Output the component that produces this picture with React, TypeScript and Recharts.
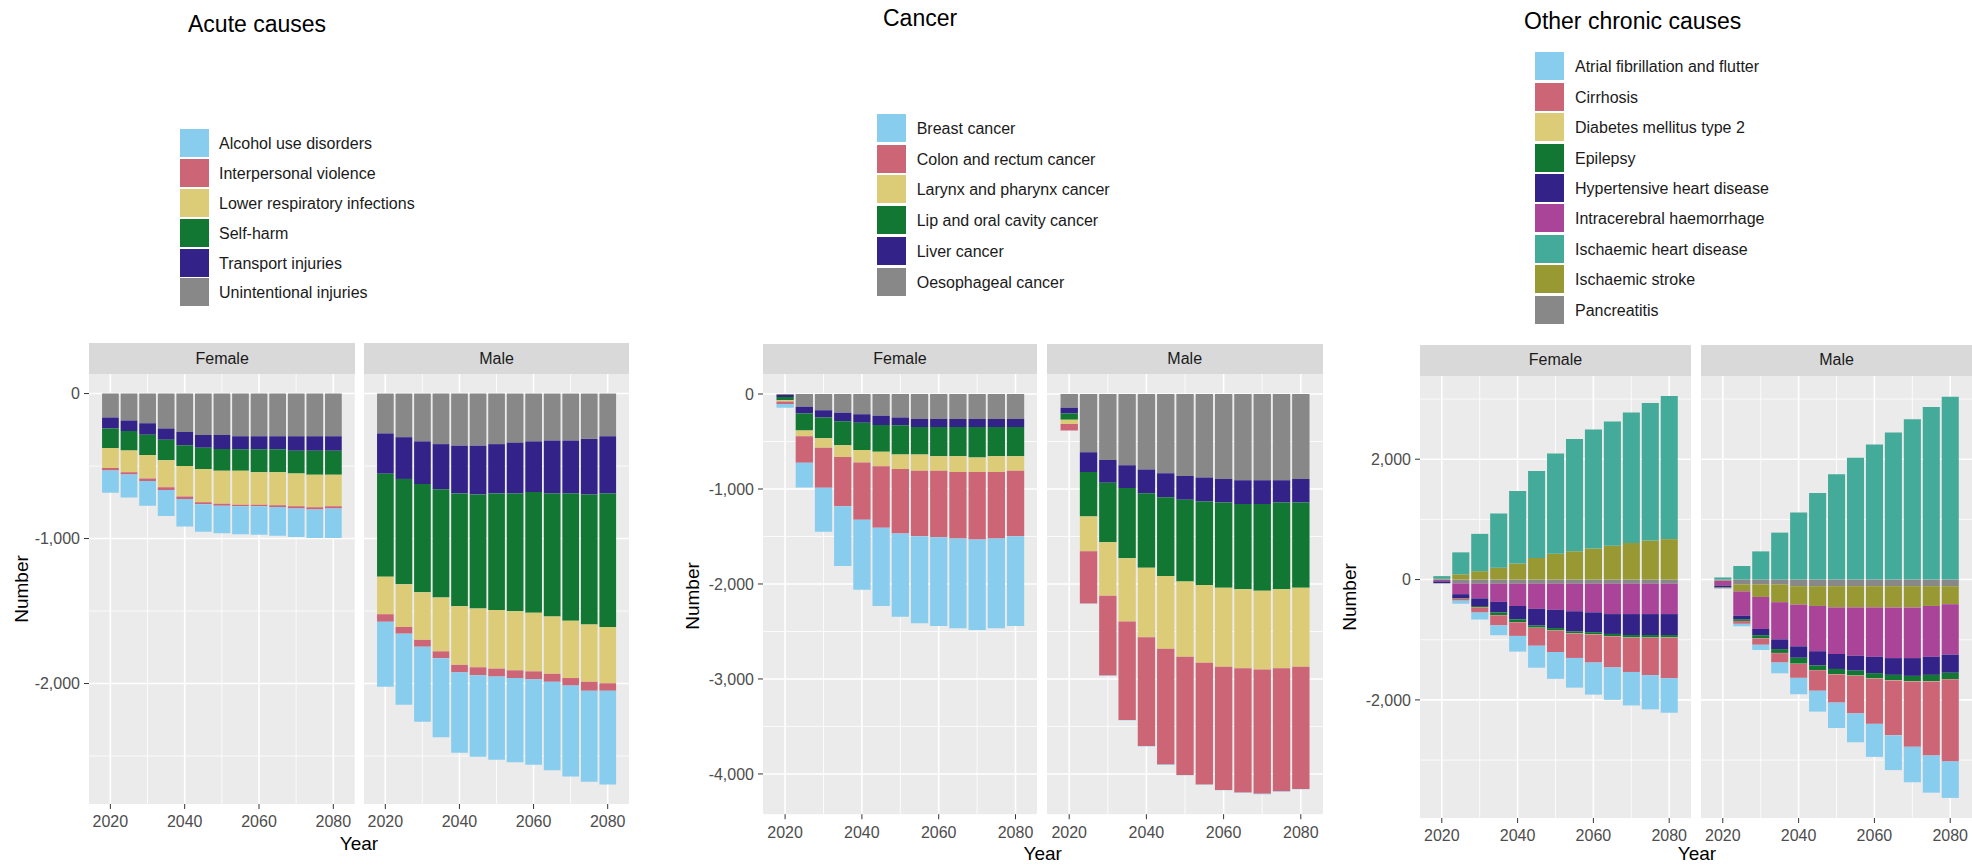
import React from 'react';
import { BarChart, Bar, XAxis, YAxis, CartesianGrid } from 'recharts';

const FONT = "'Liberation Sans', Arial, Helvetica, sans-serif";

const years = [2020, 2025, 2030, 2035, 2040, 2045, 2050, 2055, 2060, 2065, 2070, 2075, 2080];
const xMajor = [2020, 2040, 2060, 2080];
const xMinor = [2030, 2050, 2070];

// ---------- Acute causes ----------
const acuteF_unintentional = [-166, -185, -204, -241, -265, -286, -286, -295, -295, -295, -295, -295, -295];
const acuteF_transport = [-75, -73, -80, -78, -91, -87, -96, -90, -90, -90, -99, -99, -99];
const acuteF_selfharm = [-134, -134, -140, -141, -143, -147, -150, -147, -157, -157, -157, -166, -166];
const acuteF_lri = [-138, -150, -162, -187, -211, -230, -228, -235, -225, -229, -227, -225, -218];
const acuteF_violence = [-17, -16, -17, -19, -17, -14, -14, -11, -11, -12, -15, -15, -15];
const acuteF_alcohol = [-155, -159, -171, -178, -190, -190, -190, -193, -195, -197, -196, -196, -203];

const acuteM_unintentional = [-275, -301, -330, -349, -359, -359, -349, -340, -330, -323, -323, -313, -294];
const acuteM_transport = [-278, -288, -294, -311, -330, -337, -340, -349, -349, -366, -366, -383, -395];
const acuteM_selfharm = [-710, -727, -747, -747, -778, -787, -804, -813, -833, -849, -878, -897, -921];
const acuteM_lri = [-259, -294, -328, -371, -404, -405, -404, -407, -404, -395, -395, -395, -388];
const acuteM_violence = [-52, -46, -47, -47, -52, -55, -55, -53, -55, -55, -52, -62, -52];
const acuteM_alcohol = [-448, -490, -517, -546, -555, -562, -574, -581, -589, -610, -627, -627, -646];

// ---------- Cancer ----------
const cancerF_oesophageal = [-10, -133, -172, -197, -212, -230, -248, -262, -262, -262, -262, -262, -262];
const cancerF_liver = [-22, -72, -76, -90, -90, -97, -82, -86, -86, -86, -86, -86, -86];
const cancerF_lip = [-35, -179, -219, -252, -287, -280, -306, -288, -306, -306, -320, -306, -306];
const cancerF_larynx = [-13, -61, -100, -125, -133, -154, -154, -172, -154, -168, -154, -168, -154];
const cancerF_colon = [-25, -280, -420, -517, -603, -647, -679, -689, -700, -700, -711, -700, -689];
const cancerF_breast = [-40, -259, -464, -629, -736, -825, -876, -916, -934, -945, -952, -945, -945];

const cancerM_oesophageal = [-145, -612, -696, -751, -795, -835, -864, -879, -894, -908, -908, -908, -894];
const cancerM_liver = [-60, -209, -238, -238, -249, -253, -250, -253, -249, -250, -250, -235, -249];
const cancerM_lip = [-65, -468, -626, -740, -784, -828, -860, -879, -897, -897, -912, -912, -897];
const cancerM_larynx = [-45, -367, -565, -667, -732, -765, -792, -817, -832, -831, -831, -831, -832];
const cancerM_colon = [-70, -549, -838, -1036, -1147, -1220, -1245, -1282, -1296, -1308, -1308, -1297, -1286];
const cancerM_breast = [0, -2, -3, -3, -4, -4, -4, -4, -4, -4, -4, -4, -4];

// ---------- Other chronic causes ----------
const otherF_pancreatitis = [-5, -64, -70, -70, -70, -70, -70, -70, -70, -70, -70, -70, -70];
const otherF_stroke = [12, 87, 139, 197, 267, 359, 429, 470, 516, 562, 609, 649, 672];
const otherF_ihd = [45, 365, 620, 899, 1206, 1443, 1664, 1867, 1977, 2064, 2168, 2284, 2377];
const otherF_ich = [-25, -179, -243, -301, -370, -417, -434, -457, -475, -504, -504, -504, -504];
const otherF_hypertensive = [-28, -70, -127, -174, -221, -278, -302, -336, -330, -330, -348, -348, -348];
const otherF_epilepsy = [-3, -6, -18, -46, -46, -35, -40, -29, -35, -35, -41, -42, -40];
const otherF_diabetes = [-1, -2, -3, -3, -4, -4, -4, -5, -5, -5, -5, -5, -5];
const otherF_cirrhosis = [-3, -29, -87, -168, -226, -296, -354, -406, -464, -516, -568, -620, -672];
const otherF_atrial = [-3, -52, -116, -163, -261, -365, -446, -493, -533, -539, -556, -568, -574];

const otherM_pancreatitis = [-10, -81, -81, -81, -110, -110, -110, -110, -110, -110, -110, -110, -110];
const otherM_stroke = [-10, -116, -208, -295, -306, -329, -353, -353, -353, -353, -353, -329, -300];
const otherM_ihd = [35, 225, 468, 780, 1116, 1439, 1751, 2023, 2243, 2445, 2665, 2867, 3040];
const otherM_ich = [-80, -404, -532, -618, -694, -752, -774, -803, -820, -843, -843, -844, -838];
const otherM_hypertensive = [-25, -58, -104, -162, -190, -237, -249, -248, -272, -278, -295, -301, -301];
const otherM_epilepsy = [-10, -29, -52, -64, -99, -75, -86, -81, -87, -87, -87, -104, -104];
const otherM_diabetes = [-1, -2, -3, -3, -4, -4, -5, -5, -5, -5, -5, -5, -5];
const otherM_cirrhosis = [-10, -46, -104, -156, -231, -341, -468, -625, -751, -913, -1087, -1231, -1364];
const otherM_atrial = [-5, -41, -87, -179, -272, -347, -422, -479, -549, -578, -589, -618, -607];

type Series = { key: string; name: string; color: string };

const acuteSeries: Series[] = [
  { key: 'alcohol', name: 'Alcohol use disorders', color: '#88CCEE' },
  { key: 'violence', name: 'Interpersonal violence', color: '#CC6677' },
  { key: 'lri', name: 'Lower respiratory infections', color: '#DDCC77' },
  { key: 'selfharm', name: 'Self-harm', color: '#117733' },
  { key: 'transport', name: 'Transport injuries', color: '#332288' },
  { key: 'unintentional', name: 'Unintentional injuries', color: '#888888' },
];

const cancerSeries: Series[] = [
  { key: 'breast', name: 'Breast cancer', color: '#88CCEE' },
  { key: 'colon', name: 'Colon and rectum cancer', color: '#CC6677' },
  { key: 'larynx', name: 'Larynx and pharynx cancer', color: '#DDCC77' },
  { key: 'lip', name: 'Lip and oral cavity cancer', color: '#117733' },
  { key: 'liver', name: 'Liver cancer', color: '#332288' },
  { key: 'oesophageal', name: 'Oesophageal cancer', color: '#888888' },
];

const otherSeries: Series[] = [
  { key: 'atrial', name: 'Atrial fibrillation and flutter', color: '#88CCEE' },
  { key: 'cirrhosis', name: 'Cirrhosis', color: '#CC6677' },
  { key: 'diabetes', name: 'Diabetes mellitus type 2', color: '#DDCC77' },
  { key: 'epilepsy', name: 'Epilepsy', color: '#117733' },
  { key: 'hypertensive', name: 'Hypertensive heart disease', color: '#332288' },
  { key: 'ich', name: 'Intracerebral haemorrhage', color: '#AA4499' },
  { key: 'ihd', name: 'Ischaemic heart disease', color: '#44AA99' },
  { key: 'stroke', name: 'Ischaemic stroke', color: '#999933' },
  { key: 'pancreatitis', name: 'Pancreatitis', color: '#888888' },
];

function buildRows(cols: Record<string, number[]>) {
  return years.map((year, i) => {
    const row: Record<string, number> = { year };
    Object.keys(cols).forEach((k) => {
      row[k] = cols[k][i];
    });
    return row;
  });
}

const acuteFemale = buildRows({
  alcohol: acuteF_alcohol, violence: acuteF_violence, lri: acuteF_lri,
  selfharm: acuteF_selfharm, transport: acuteF_transport, unintentional: acuteF_unintentional,
});
const acuteMale = buildRows({
  alcohol: acuteM_alcohol, violence: acuteM_violence, lri: acuteM_lri,
  selfharm: acuteM_selfharm, transport: acuteM_transport, unintentional: acuteM_unintentional,
});
const cancerFemale = buildRows({
  breast: cancerF_breast, colon: cancerF_colon, larynx: cancerF_larynx,
  lip: cancerF_lip, liver: cancerF_liver, oesophageal: cancerF_oesophageal,
});
const cancerMale = buildRows({
  breast: cancerM_breast, colon: cancerM_colon, larynx: cancerM_larynx,
  lip: cancerM_lip, liver: cancerM_liver, oesophageal: cancerM_oesophageal,
});
const otherFemale = buildRows({
  atrial: otherF_atrial, cirrhosis: otherF_cirrhosis, diabetes: otherF_diabetes, epilepsy: otherF_epilepsy,
  hypertensive: otherF_hypertensive, ich: otherF_ich, ihd: otherF_ihd, stroke: otherF_stroke, pancreatitis: otherF_pancreatitis,
});
const otherMale = buildRows({
  atrial: otherM_atrial, cirrhosis: otherM_cirrhosis, diabetes: otherM_diabetes, epilepsy: otherM_epilepsy,
  hypertensive: otherM_hypertensive, ich: otherM_ich, ihd: otherM_ihd, stroke: otherM_stroke, pancreatitis: otherM_pancreatitis,
});

function stackedDomain(rowsList: Record<string, number>[][], series: Series[]): [number, number] {
  let lo = 0;
  let hi = 0;
  rowsList.forEach((rows) =>
    rows.forEach((r) => {
      let p = 0;
      let n = 0;
      series.forEach((s) => {
        const v = r[s.key];
        if (v > 0) p += v;
        else n += v;
      });
      hi = Math.max(hi, p);
      lo = Math.min(lo, n);
    })
  );
  const pad = (hi - lo) * 0.05;
  return [lo - pad, hi + pad];
}

const fmt = (v: number) => v.toLocaleString('en-US');
const X_DOMAIN: [number, number] = [2014.25, 2085.75];
const Y_AXIS_W = 70;
const X_AXIS_H = 40;

type PanelProps = {
  left: number;
  w: number;
  stripTop: number;
  plotTop: number;
  plotH: number;
  label: string;
  rows: Record<string, number>[];
  series: Series[];
  domain: [number, number];
  majorY: number[];
  minorY: number[];
  showY: boolean;
};

function Panel(p: PanelProps) {
  const barSize = (4.5 * p.w) / (X_DOMAIN[1] - X_DOMAIN[0]);
  const yW = p.showY ? Y_AXIS_W : 0;
  const stackOrder = [...p.series].reverse();
  return (
    <>
      <div
        style={{
          position: 'absolute',
          left: p.left,
          top: p.stripTop,
          width: p.w,
          height: p.plotTop - p.stripTop,
          background: '#D9D9D9',
          color: '#1A1A1A',
          fontFamily: FONT,
          fontSize: 16,
          display: 'flex',
          alignItems: 'center',
          justifyContent: 'center',
        }}
      >
        {p.label}
      </div>
      <div style={{ position: 'absolute', left: p.left - yW, top: p.plotTop }}>
        <BarChart
          width={p.w + yW}
          height={p.plotH + X_AXIS_H}
          data={p.rows}
          stackOffset="sign"
          margin={{ top: 0, right: 0, bottom: 0, left: 0 }}
        >
          <CartesianGrid
            fill="#EBEBEB"
            stroke="#FFFFFF"
            strokeWidth={0.8}
            horizontalValues={p.minorY}
            verticalValues={xMinor}
          />
          <CartesianGrid
            stroke="#FFFFFF"
            strokeWidth={1.6}
            horizontalValues={p.majorY}
            verticalValues={xMajor}
          />
          <XAxis
            type="number"
            dataKey="year"
            domain={X_DOMAIN}
            ticks={xMajor}
            allowDataOverflow
            interval={0}
            height={X_AXIS_H}
            axisLine={false}
            tickLine={{ stroke: '#333333' }}
            tickSize={5}
            tickMargin={7}
            tick={{ fill: '#4D4D4D', fontSize: 16, fontFamily: FONT }}
          />
          <YAxis
            type="number"
            domain={p.domain}
            ticks={p.majorY}
            allowDataOverflow
            interval={0}
            width={yW}
            hide={!p.showY}
            axisLine={false}
            tickLine={{ stroke: '#333333' }}
            tickSize={5}
            tickMargin={4}
            tickFormatter={fmt}
            tick={{ fill: '#4D4D4D', fontSize: 16, fontFamily: FONT }}
          />
          {stackOrder.map((s) => (
            <Bar
              key={s.key}
              dataKey={s.key}
              name={s.name}
              stackId="stack"
              fill={s.color}
              barSize={barSize}
              isAnimationActive={false}
            />
          ))}
        </BarChart>
      </div>
    </>
  );
}

type GroupProps = {
  title: string;
  titleX: number;
  titleY: number;
  series: Series[];
  legendX: number;
  legendY: number;
  legendStep: number;
  labelX: number;
  stripTop: number;
  plotTop: number;
  plotH: number;
  panels: { left: number; w: number; label: string; rows: Record<string, number>[] }[];
  majorY: number[];
  minorY: number[];
  numberX: number;
  numberY: number;
  yearX: number;
  yearY: number;
};

function Group(g: GroupProps) {
  const domain = stackedDomain(g.panels.map((p) => p.rows), g.series);
  return (
    <>
      <div
        style={{
          position: 'absolute',
          left: g.titleX,
          top: g.titleY - 11.5,
          fontFamily: FONT,
          fontSize: 23,
          lineHeight: '23px',
          color: '#000',
          whiteSpace: 'nowrap',
        }}
      >
        {g.title}
      </div>
      {g.series.map((s, i) => (
        <React.Fragment key={s.key}>
          <div
            style={{
              position: 'absolute',
              left: g.legendX,
              top: g.legendY + i * g.legendStep,
              width: 29,
              height: 28,
              background: s.color,
            }}
          />
          <div
            style={{
              position: 'absolute',
              left: g.labelX,
              top: g.legendY + i * g.legendStep + 14 - 8 + 1,
              fontFamily: FONT,
              fontSize: 16,
              lineHeight: '16px',
              color: '#1A1A1A',
              whiteSpace: 'nowrap',
            }}
          >
            {s.name}
          </div>
        </React.Fragment>
      ))}
      {g.panels.map((p, i) => (
        <Panel
          key={p.label}
          left={p.left}
          w={p.w}
          stripTop={g.stripTop}
          plotTop={g.plotTop}
          plotH={g.plotH}
          label={p.label}
          rows={p.rows}
          series={g.series}
          domain={domain}
          majorY={g.majorY}
          minorY={g.minorY}
          showY={i === 0}
        />
      ))}
      <div
        style={{
          position: 'absolute',
          left: g.numberX - 100,
          top: g.numberY - 10,
          width: 200,
          height: 20,
          lineHeight: '20px',
          textAlign: 'center',
          transform: 'rotate(-90deg)',
          fontFamily: FONT,
          fontSize: 19,
          color: '#000',
        }}
      >
        Number
      </div>
      <div
        style={{
          position: 'absolute',
          left: g.yearX - 100,
          top: g.yearY - 10,
          width: 200,
          height: 20,
          lineHeight: '20px',
          textAlign: 'center',
          fontFamily: FONT,
          fontSize: 19,
          color: '#000',
        }}
      >
        Year
      </div>
    </>
  );
}

export default function App() {
  return (
    <div
      style={{
        position: 'absolute',
        left: 0,
        top: 0,
        width: 1972,
        height: 865,
        overflow: 'hidden',
        background: '#FFFFFF',
      }}
    >
      <Group
        title="Acute causes"
        titleX={188}
        titleY={24}
        series={acuteSeries}
        legendX={180}
        legendY={129.3}
        legendStep={29.8}
        labelX={219}
        stripTop={343}
        plotTop={374}
        plotH={430}
        panels={[
          { left: 89.3, w: 265.7, label: 'Female', rows: acuteFemale },
          { left: 364, w: 265, label: 'Male', rows: acuteMale },
        ]}
        majorY={[0, -1000, -2000]}
        minorY={[-500, -1500, -2500]}
        numberX={21.7}
        numberY={588.5}
        yearX={359}
        yearY={843.6}
      />
      <Group
        title="Cancer"
        titleX={883}
        titleY={18.3}
        series={cancerSeries}
        legendX={876.7}
        legendY={114}
        legendStep={30.7}
        labelX={916.7}
        stripTop={343.7}
        plotTop={374.4}
        plotH={440.2}
        panels={[
          { left: 762.7, w: 274.6, label: 'Female', rows: cancerFemale },
          { left: 1046.7, w: 276, label: 'Male', rows: cancerMale },
        ]}
        majorY={[0, -1000, -2000, -3000, -4000]}
        minorY={[-500, -1500, -2500, -3500]}
        numberX={693}
        numberY={596}
        yearX={1042.7}
        yearY={853.5}
      />
      <Group
        title="Other chronic causes"
        titleX={1524}
        titleY={21.5}
        series={otherSeries}
        legendX={1535}
        legendY={52.3}
        legendStep={30.4}
        labelX={1575}
        stripTop={344.7}
        plotTop={376}
        plotH={442}
        panels={[
          { left: 1420, w: 271, label: 'Female', rows: otherFemale },
          { left: 1701, w: 271, label: 'Male', rows: otherMale },
        ]}
        majorY={[2000, 0, -2000]}
        minorY={[3000, 1000, -1000, -3000]}
        numberX={1350}
        numberY={597}
        yearX={1697}
        yearY={853.5}
      />
    </div>
  );
}
